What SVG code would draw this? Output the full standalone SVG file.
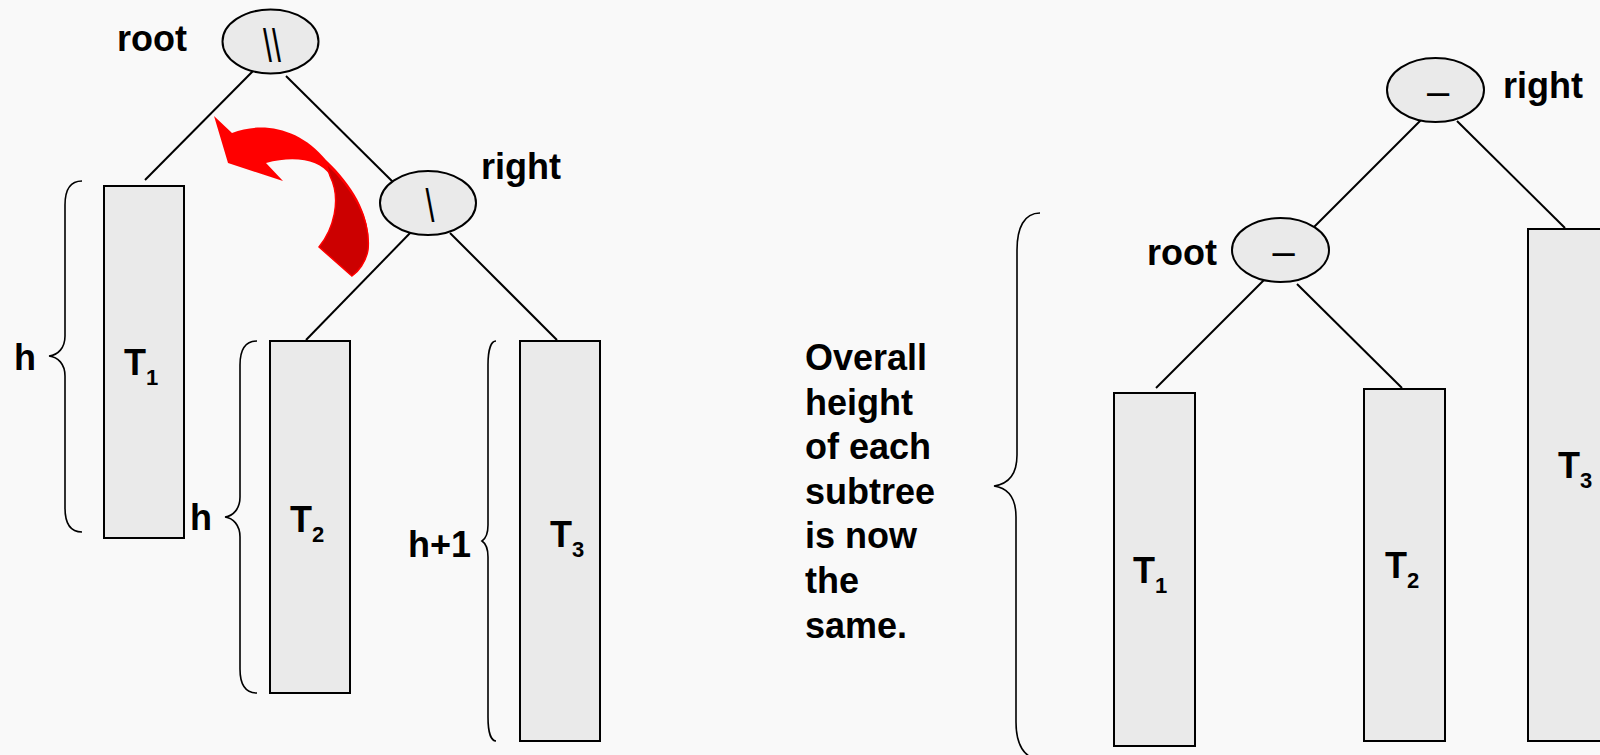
<svg xmlns="http://www.w3.org/2000/svg" width="1600" height="755" viewBox="0 0 1600 755">
<style>
.bg{fill:#F9F9F9}
.box{fill:#EAEAEA;stroke:#000;stroke-width:2}
.edge{stroke:#000;stroke-width:2;fill:none}
.brace{stroke:#000;stroke-width:1.6;fill:none}
.lbl{font-family:"Liberation Sans",Arial,sans-serif;font-weight:bold;font-size:36px;fill:#000}
.sub{font-size:22px}
.sym{font-family:"Liberation Sans",Arial,sans-serif;font-size:46px;fill:#000;text-anchor:middle}
.dash{font-family:"Liberation Sans",Arial,sans-serif;font-size:40px;fill:#000;text-anchor:middle}
</style>
<rect class="bg" x="0" y="0" width="1600" height="755"/>

<g id="connectors">
  <line class="edge" x1="254" y1="70" x2="145" y2="180"/>
  <line class="edge" x1="286" y1="76" x2="398" y2="187"/>
  <line class="edge" x1="413" y1="230" x2="306" y2="340"/>
  <line class="edge" x1="450" y1="233" x2="557" y2="340"/>
  <line class="edge" x1="1424" y1="117" x2="1313" y2="228"/>
  <line class="edge" x1="1457" y1="121" x2="1565" y2="228"/>
  <line class="edge" x1="1267" y1="277" x2="1156" y2="388"/>
  <line class="edge" x1="1297" y1="284" x2="1402" y2="388"/>
</g>

<g id="braces">
  <path class="brace" d="M82,181 C70,181 65,190 65,205 L65,336 C65,348 58,355 49,356 C58,357 65,364 65,376 L65,508 C65,523 70,532 82,532"/>
  <path class="brace" d="M257,341 C245,341 240,350 240,365 L240,497 C240,509 233,516 225,517 C233,518 240,525 240,537 L240,669 C240,684 245,693 257,693"/>
  <path class="brace" d="M496,341 C491,341 488,350 488,365 L488,525 C488,535 485,539 482,541 C485,543 488,547 488,557 L488,717 C488,732 491,741 496,741"/>
  <path class="brace" d="M1040,213 C1024,213 1017,228 1017,250 L1017,455 C1017,475 1008,484 994,486 C1008,488 1016,497 1016,517 L1016,722 C1016,744 1024,759 1040,759"/>
</g>

<g id="arrow">
  <path fill="#FF0000" d="M214,116 L232,133 C262,121 300,128 326,160 C356,188 372,220 368,250 C366,262 358,272 352,276 L319,247 C333,230 342,200 330,175 C320,160 295,155 266,163 L283,181 L228,163 Z"/>
  <path fill="#CC0000" stroke="#FF0000" stroke-width="1.5" d="M326,163 C354,189 371,220 368,250 C366,262 358,272 352,276 L319,247 C333,230 342,200 330,176 Z"/>
</g>

<g id="left-root">
  <ellipse class="box" cx="270.5" cy="41.5" rx="48" ry="32"/>
  <text class="sym" transform="translate(272,62) scale(0.7,1)">\\</text>
  <text class="lbl" x="117" y="51">root</text>
</g>
<g id="left-right">
  <ellipse class="box" cx="428" cy="203" rx="48" ry="32"/>
  <text class="sym" transform="translate(430,222) scale(0.7,1)">\</text>
  <text class="lbl" x="481" y="179">right</text>
</g>
<g id="left-T1">
  <rect class="box" x="104" y="186" width="80" height="352"/>
  <text class="lbl" x="124" y="375">T<tspan class="sub" dy="10">1</tspan></text>
</g>
<g id="left-T2">
  <rect class="box" x="270" y="341" width="80" height="352"/>
  <text class="lbl" x="290" y="532">T<tspan class="sub" dy="10">2</tspan></text>
</g>
<g id="left-T3">
  <rect class="box" x="520" y="341" width="80" height="400"/>
  <text class="lbl" x="550" y="547">T<tspan class="sub" dy="10">3</tspan></text>
</g>
<g id="left-h-labels">
  <text class="lbl" x="14" y="370">h</text>
  <text class="lbl" x="190" y="530">h</text>
  <text class="lbl" x="408" y="557">h+1</text>
</g>

<g id="note">
  <text class="lbl" x="805" y="370">Overall</text>
  <text class="lbl" x="805" y="414.6">height</text>
  <text class="lbl" x="805" y="459.2">of each</text>
  <text class="lbl" x="805" y="503.8">subtree</text>
  <text class="lbl" x="805" y="548.4">is now</text>
  <text class="lbl" x="805" y="593">the</text>
  <text class="lbl" x="805" y="637.6">same.</text>
</g>

<g id="right-right">
  <ellipse class="box" cx="1435.5" cy="90" rx="48.5" ry="32"/>
  <text class="dash" x="1438" y="105">–</text>
  <text class="lbl" x="1503" y="98">right</text>
</g>
<g id="right-root">
  <ellipse class="box" cx="1280.5" cy="250" rx="48.5" ry="32"/>
  <text class="dash" x="1283.5" y="265">–</text>
  <text class="lbl" x="1147" y="265">root</text>
</g>
<g id="right-T1">
  <rect class="box" x="1114" y="393" width="81" height="353"/>
  <text class="lbl" x="1133" y="583">T<tspan class="sub" dy="10">1</tspan></text>
</g>
<g id="right-T2">
  <rect class="box" x="1364" y="389" width="81" height="352"/>
  <text class="lbl" x="1385" y="578">T<tspan class="sub" dy="10">2</tspan></text>
</g>
<g id="right-T3">
  <rect class="box" x="1528" y="229" width="80" height="512"/>
  <text class="lbl" x="1558" y="478">T<tspan class="sub" dy="10">3</tspan></text>
</g>
</svg>
